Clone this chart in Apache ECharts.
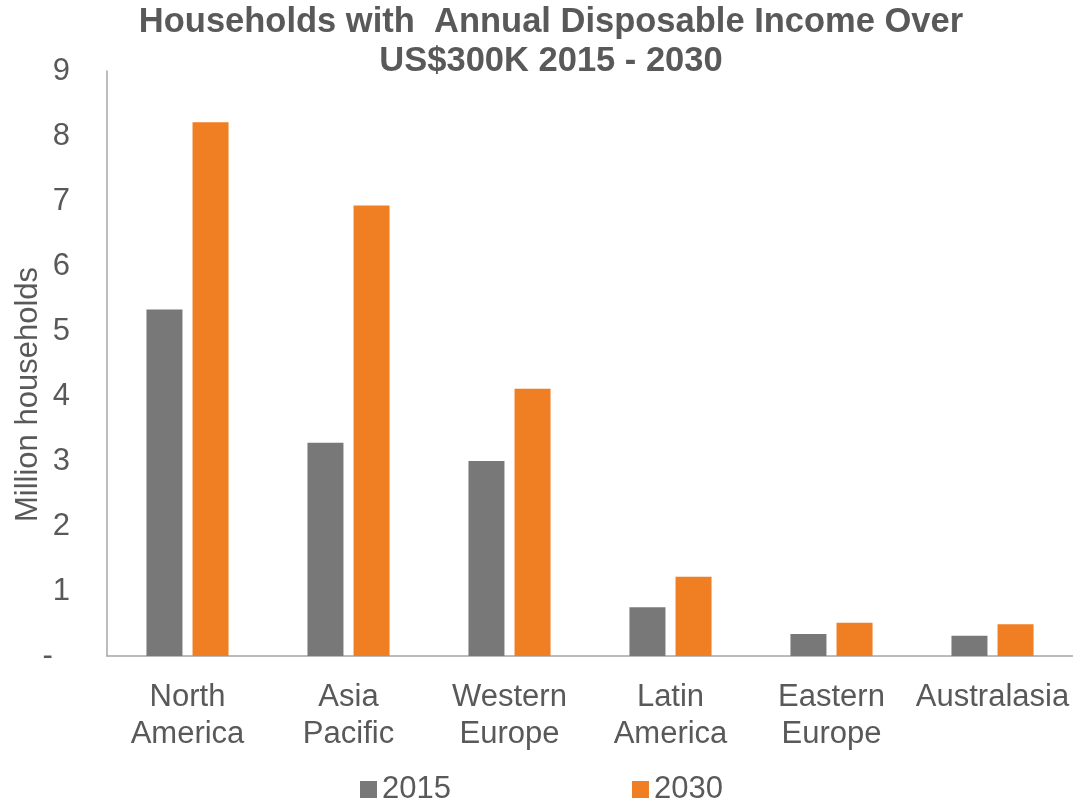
<!DOCTYPE html>
<html>
<head>
<meta charset="utf-8">
<script src="https://cdn.jsdelivr.net/npm/echarts@6/dist/echarts.min.js"></script>
<style>
  html, body { margin: 0; padding: 0; background: #fff; }
  #chart { width: 1073px; height: 800px; }
</style>
</head>
<body>
<div id="chart"></div>
<script>
// Regions (two-line axis labels)
const regions = ['North\nAmerica', 'Asia\nPacific', 'Western\nEurope', 'Latin\nAmerica', 'Eastern\nEurope', 'Australasia'];
// Million households with disposable income over US$300K
const values2015 = [5.33, 3.28, 3.00, 0.75, 0.34, 0.31];
const values2030 = [8.21, 6.93, 4.11, 1.22, 0.51, 0.49];
const seriesNames = ['2015', '2030'];
const yTicks = [0, 1, 2, 3, 4, 5, 6, 7, 8, 9];

const FONT = '"Liberation Sans", Arial, sans-serif';
const TEXT = '#595959';

const chart = echarts.init(document.getElementById('chart'), null, { renderer: 'canvas' });

chart.setOption({
  animation: false,
  backgroundColor: '#ffffff',
  title: {
    text: 'Households with  Annual Disposable Income Over\nUS$300K 2015 - 2030',
    left: 546,
    top: -2,
    textAlign: 'center',
    textStyle: {
      fontFamily: FONT,
      fontSize: 34.5,
      fontWeight: 'bold',
      color: TEXT,
      lineHeight: 39
    }
  },
  legend: {
    data: seriesNames,
    left: 355,
    top: 769,
    itemWidth: 17,
    itemHeight: 17,
    itemGap: 181,
    icon: 'rect',
    textStyle: { fontFamily: FONT, fontSize: 31, color: TEXT }
  },
  grid: {
    left: 107,
    right: 0,
    top: 71,
    bottom: 144,
    containLabel: false,
    outerBoundsMode: 'none'
  },
  xAxis: {
    type: 'category',
    data: regions,
    axisLine: { show: true, lineStyle: { color: '#a6a6a6', width: 1.5 } },
    axisTick: { show: false },
    axisLabel: {
      interval: 0,
      margin: 23,
      fontFamily: FONT,
      fontSize: 31,
      lineHeight: 37,
      color: TEXT
    },
    splitLine: { show: false }
  },
  yAxis: {
    type: 'value',
    min: yTicks[0],
    max: yTicks[yTicks.length - 1],
    interval: 1,
    name: 'Million households',
    nameLocation: 'middle',
    nameGap: 63,
    nameMoveOverlap: false,
    nameTextStyle: {
      fontFamily: FONT,
      fontSize: 31,
      color: TEXT,
      padding: [0, 62, 0, 0]
    },
    axisLine: { show: true, lineStyle: { color: '#a6a6a6', width: 1.5 } },
    axisTick: { show: false },
    axisLabel: {
      margin: 37,
      fontFamily: FONT,
      fontSize: 31,
      color: TEXT,
      formatter: v => (v === 0 ? '-  ' : String(v))
    },
    splitLine: { show: false }
  },
  series: [
    {
      name: seriesNames[0],
      type: 'bar',
      data: values2015,
      barWidth: 36,
      barGap: '28%',
      itemStyle: { color: '#787878' }
    },
    {
      name: seriesNames[1],
      type: 'bar',
      data: values2030,
      barWidth: 36,
      itemStyle: { color: '#f07e22' }
    }
  ]
});
</script>
</body>
</html>
